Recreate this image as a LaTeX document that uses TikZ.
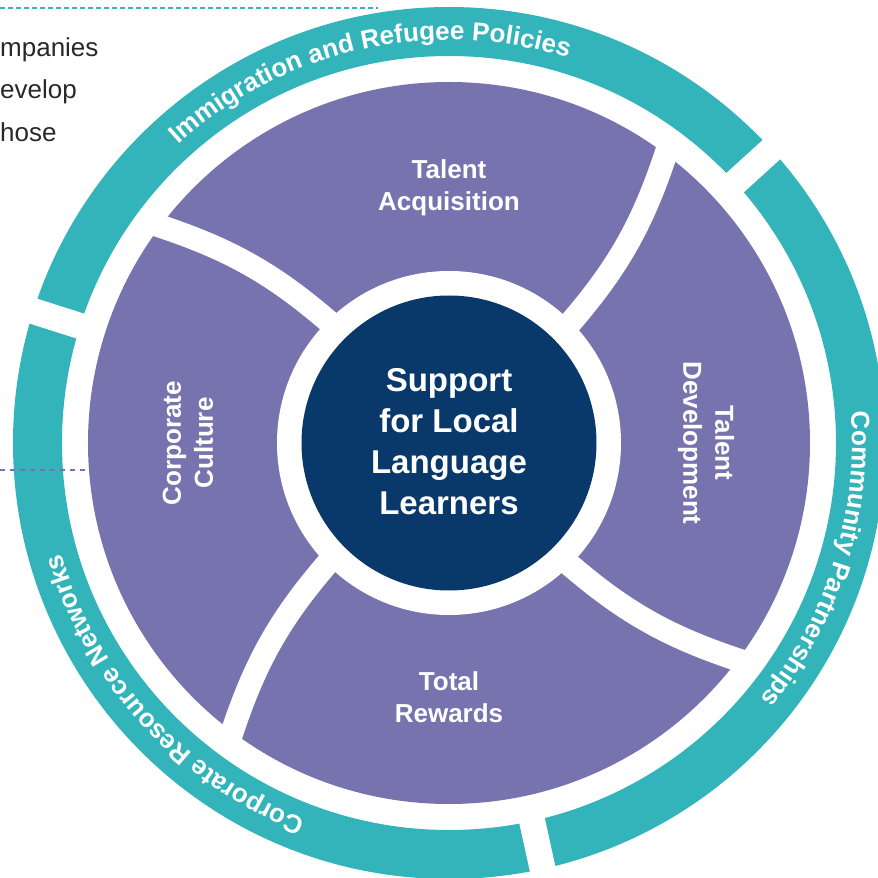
\documentclass[tikz,border=0pt]{standalone}
\usepackage{fontspec}
\setmainfont{Liberation Sans}
\usetikzlibrary{decorations.text}
\definecolor{ringteal}{RGB}{50,180,186}
\definecolor{wedgepurple}{RGB}{119,115,174}
\definecolor{corenavy}{RGB}{9,56,106}
\definecolor{bodygray}{RGB}{40,40,40}
\newcommand{\ringfont}{\bfseries\fontsize{26}{26}\selectfont}

\begin{document}
\begin{tikzpicture}[x=1pt, y=1pt,
    wedgelabel/.style={text=white, font=\bfseries\fontsize{26}{32}\selectfont, align=center, inner sep=0pt},
    corelabel/.style={text=white, font=\bfseries\fontsize{33}{41}\selectfont, align=center, inner sep=0pt},
    bodytext/.style={text=bodygray, font=\fontsize{26}{26}\selectfont, anchor=base west, inner sep=0pt},
    divider/.style={white, line width=23pt},
    ringgap/.style={white, line width=26pt},
    ringtext/.style={decorate, decoration={text along path, text align=center, text color=white, text={|\ringfont|#1}}}
  ]

  \clip (-449,-435) rectangle (429,443);

  % outer ring
  \fill[ringteal, even odd rule] (0,0) circle[radius=436] (0,0) circle[radius=387];
  \foreach \a in {42.3, 162.4, 282.4}
    \draw[ringgap] (\a:370) -- (\a:450);

  % purple wedges
  \fill[wedgepurple] (0,0) circle[radius=361];
  \foreach \a in {0, 90, 180, 270}
    \draw[divider, rotate=\a] (111.3,108.7) to[bend right=12] (220.6,300.6);
  \fill[white] (0,0) circle[radius=172];
  \fill[corenavy] (0,0) circle[radius=147.5];

  % labels
  \node[corelabel] (core) at (0,1) {Support\\for Local\\Language\\Learners};
  \node[wedgelabel] (acquisition) at (90:255) {Talent\\Acquisition};
  \node[wedgelabel, rotate=-90] (development) at (0:257) {Talent\\Development};
  \node[wedgelabel] (rewards) at (-90:254) {Total\\Rewards};
  \node[wedgelabel, rotate=90] (culture) at (180:261) {Corporate\\Culture};

  \path[ringtext={Immigration and Refugee Policies}] (160:403) arc[start angle=160, end angle=45, radius=403];
  \path[ringtext={Community Partnerships}] (40:403) arc[start angle=40, end angle=-75, radius=403];
  \path[ringtext={Corporate Resource Networks}] (280:403) arc[start angle=280, end angle=165, radius=403];

  % cut-off text on the left
  \node[bodytext] (line1) at (-449,386) {mpanies};
  \node[bodytext] (line2) at (-449,344) {evelop};
  \node[bodytext] (line3) at (-449,301) {hose};

  \coordinate (tealstart) at (-449,435);
  \coordinate (tealend) at (-71,435);
  \draw[ringteal, line width=2.5pt, dash pattern=on 5pt off 3pt] (tealstart) -- (tealend);
  \coordinate (purplestart) at (-449,-27);
  \coordinate (purpleend) at (-362,-27);
  \draw[wedgepurple, line width=2.5pt, dash pattern=on 5pt off 5pt] (purplestart) -- (purpleend);

\end{tikzpicture}
\end{document}
